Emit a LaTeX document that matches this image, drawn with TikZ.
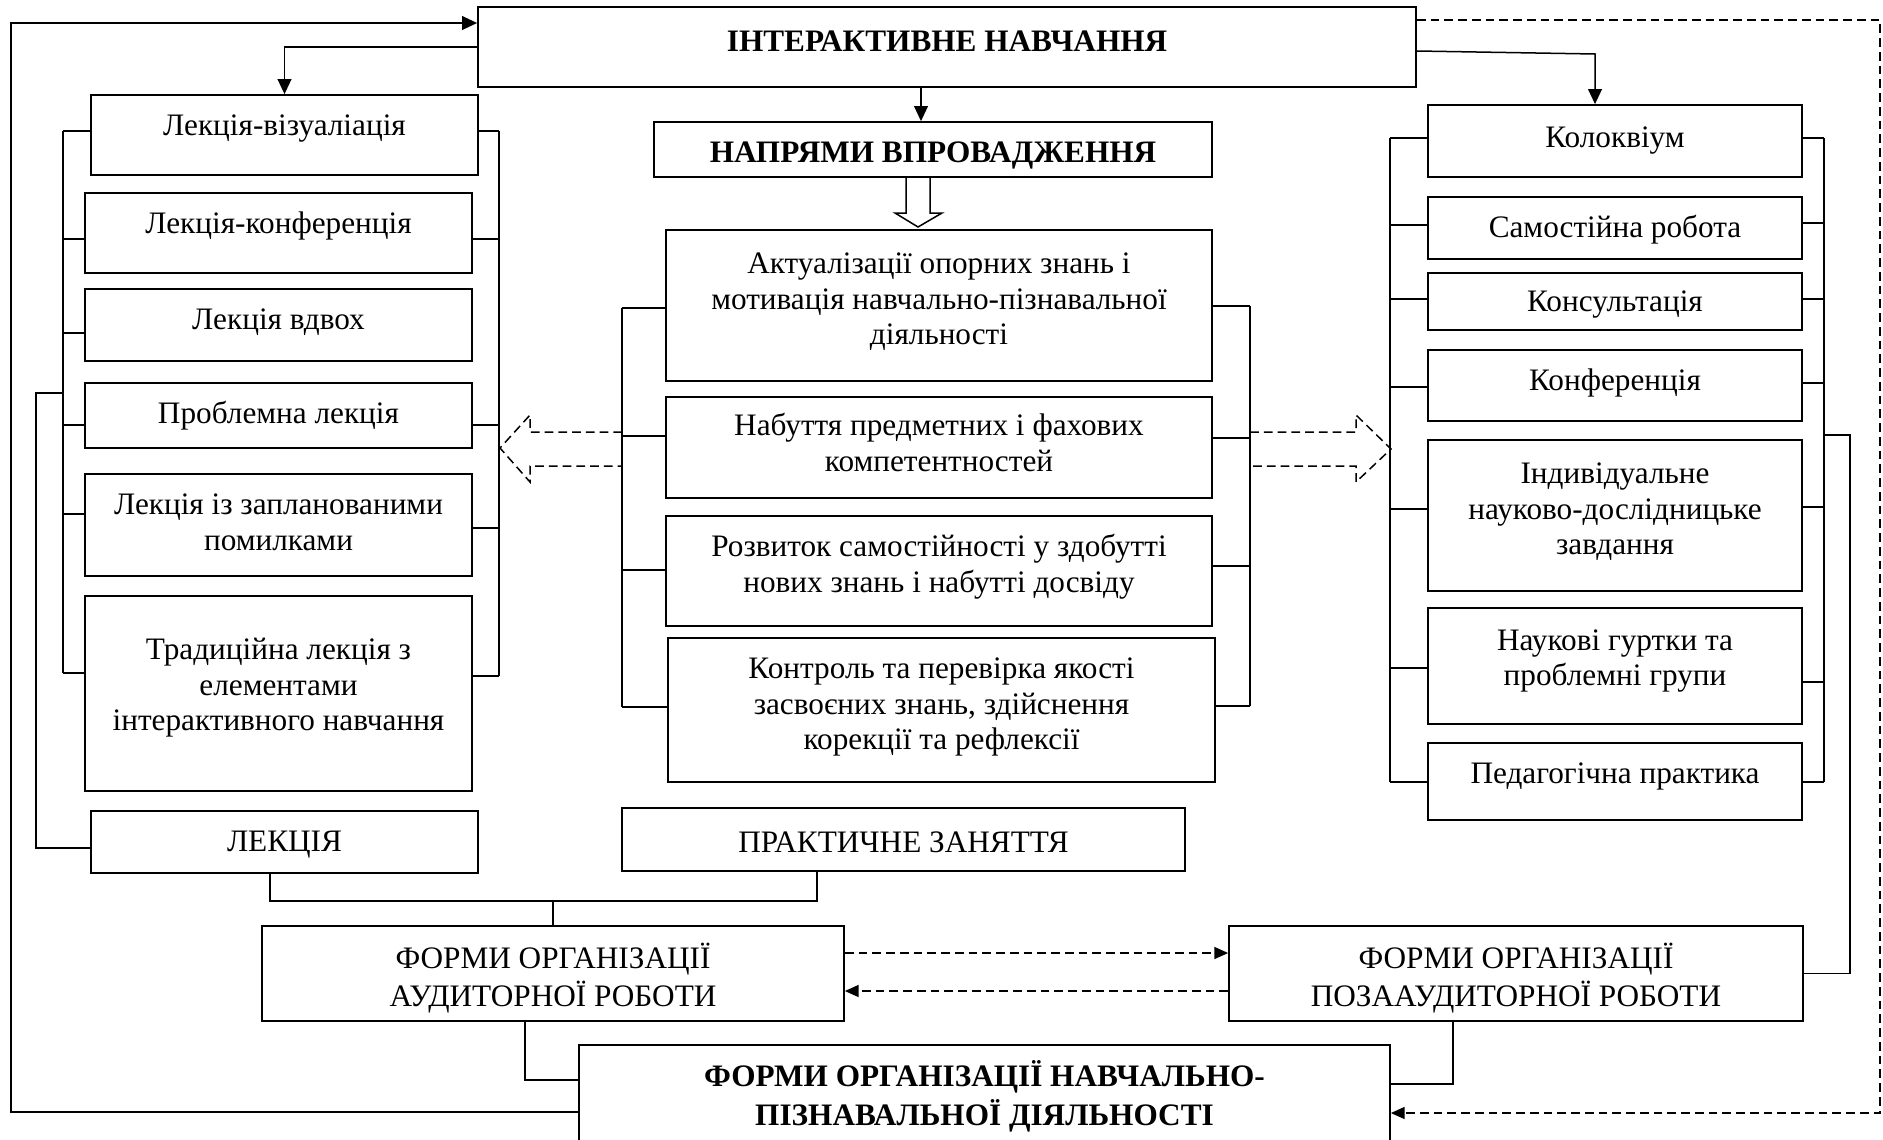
\documentclass[tikz,border=0pt]{standalone}
\usepackage{fontspec}
\setmainfont{Liberation Serif}
\usetikzlibrary{arrows.meta}
\newcommand{\cell}[4][6.3pt]{\parbox[c][#3][t]{#2}{\centering\vspace*{#1}\strut #4\par}}
\tikzset{
  box/.style={draw,line width=0.7pt,inner sep=0pt,font=\fontsize{12.5}{14.2}\selectfont},
  link/.style={line width=0.6pt},
  arr/.style={link,-{Triangle[length=6pt,width=5.5pt]}},
  dashlink/.style={line width=0.6pt,dash pattern=on 3.5pt off 2pt},
  darr/.style={dashlink,-{Triangle[length=5.5pt,width=4.8pt]}}
}
\begin{document}
\begin{tikzpicture}[x=0.4pt,y=-0.4pt]
\useasboundingbox (0,0) rectangle (1883,1139);
\node[box] (top) at (947,47) {\cell[7.9pt]{375.2pt}{32pt}{\bfseries ІНТЕРАКТИВНЕ НАВЧАННЯ}};
\node[box] (lviz) at (284.5,135) {\cell{154.8pt}{32pt}{Лекція-візуаліація}};
\node[box] (lkonf) at (278.5,233) {\cell{154.8pt}{32pt}{Лекція-конференція}};
\node[box] (lvdvoh) at (278.5,325) {\cell{154.8pt}{28.8pt}{Лекція вдвох}};
\node[box] (lprob) at (278.5,415.5) {\cell{154.8pt}{26pt}{Проблемна лекція}};
\node[box] (lpom) at (278.5,525) {\cell{154.8pt}{40.8pt}{Лекція із запланованими\\помилками}};
\node[box] (ltrad) at (278.5,693.5) {\cell[15.5pt]{154.8pt}{78pt}{Традиційна лекція з\\елементами\\інтерактивного навчання}};
\node[box] (lekc) at (284.5,842) {\cell{154.8pt}{24.8pt}{ЛЕКЦІЯ}};
\node[box] (napr) at (933,149.5) {\cell{223.2pt}{22pt}{\bfseries НАПРЯМИ ВПРОВАДЖЕННЯ}};
\node[box] (akt) at (939,305.5) {\cell[7.6pt]{218.4pt}{60.4pt}{Актуалізації опорних знань і\\мотивація навчально-пізнавальної\\діяльності}};
\node[box] (nab) at (939,447.5) {\cell[5.6pt]{218.4pt}{40.4pt}{Набуття предметних і фахових\\компетентностей}};
\node[box] (rozv) at (939,571) {\cell{218.4pt}{44pt}{Розвиток самостійності у здобутті\\нових знань і набутті досвіду}};
\node[box] (kontr) at (941.5,710) {\cell{218.8pt}{57.6pt}{Контроль та перевірка якості\\засвоєних знань, здійснення\\корекції та рефлексії}};
\node[box] (kol) at (1615,141) {\cell[7.1pt]{149.6pt}{28.8pt}{Колоквіум}};
\node[box] (sam) at (1615,228) {\cell{149.6pt}{24.8pt}{Самостійна робота}};
\node[box] (kons) at (1615,301.5) {\cell[5.5pt]{149.6pt}{22.8pt}{Консультація}};
\node[box] (konf) at (1615,385.5) {\cell{149.6pt}{28.4pt}{Конференція}};
\node[box] (ind) at (1615,515.5) {\cell[7.6pt]{149.6pt}{60.4pt}{Індивідуальне\\науково-дослідницьке\\завдання}};
\node[box] (nauk) at (1615,666) {\cell[7pt]{149.6pt}{46.4pt}{Наукові гуртки та\\проблемні групи}};
\node[box] (ped) at (1615,781.5) {\cell{149.6pt}{30.8pt}{Педагогічна практика}};
\node[box] (prakt) at (903.5,839.5) {\cell[7.7pt]{225.2pt}{25.2pt}{ПРАКТИЧНЕ ЗАНЯТТЯ}};
\node[box] (aud) at (553,973.5) {\cell[6.7pt]{232.8pt}{38pt}{ФОРМИ ОРГАНІЗАЦІЇ\\АУДИТОРНОЇ РОБОТИ}};
\node[box] (poza) at (1516,973.5) {\cell[6.7pt]{229.6pt}{38pt}{ФОРМИ ОРГАНІЗАЦІЇ\\ПОЗААУДИТОРНОЇ РОБОТИ}};
\node[box] (forms) at (984.5,1100) {\cell{324.4pt}{44pt}{\bfseries ФОРМИ ОРГАНІЗАЦІЇ НАВЧАЛЬНО-\\ПІЗНАВАЛЬНОЇ ДІЯЛЬНОСТІ}};

\draw[arr] (forms.west |- 0,1112) -| (11,23) -- (top.west |- 0,23);
\draw[arr] (top.west) -| (lviz.north);
\draw[arr] (top.south -| 921,0) -- (napr.north -| 921,0);
\draw[arr] (top.east |- 0,51) -- (1595,54) -- (kol.north -| 1595,0);
\draw[link] (napr.south -| 906,0) -- (906,213) -- (895,213) -- (918,227) -- (942,213) -- (930,213) -- (napr.south -| 930,0);
\draw[dashlink] (622,432) -- (530,432) -- (530,415) -- (500,448) -- (530,482) -- (530,466) -- (622,466);
\draw[dashlink] (1250,432) -- (1356,432) -- (1356,415) -- (1391,449) -- (1356,482) -- (1356,466) -- (1250,466);

\foreach \n/\y in {lviz/131,lkonf/239,lvdvoh/333,lprob/425,lpom/514,ltrad/673}
  \draw[link] (\n.west |- 0,\y) -- (63,\y);
\draw[link] (63,131) -- (63,673);
\foreach \n/\y in {lviz/131,lkonf/239,lprob/425,lpom/528,ltrad/676}
  \draw[link] (\n.east |- 0,\y) -- (499,\y);
\draw[link] (499,131) -- (499,676);
\draw[link] (lekc.west |- 0,848) -| (36,393) -- (63,393);

\foreach \n/\y in {akt/308,nab/436,rozv/570,kontr/707}
  \draw[link] (\n.west |- 0,\y) -- (622,\y);
\draw[link] (622,308) -- (622,707);
\foreach \n/\y in {akt/306,nab/438,rozv/566,kontr/706}
  \draw[link] (\n.east |- 0,\y) -- (1250,\y);
\draw[link] (1250,306) -- (1250,706);

\foreach \n/\y in {kol/138,sam/225,kons/299,konf/387,ind/509,nauk/668,ped/782}
  \draw[link] (\n.west |- 0,\y) -- (1390,\y);
\draw[link] (1390,138) -- (1390,782);
\foreach \n/\y in {kol/138,sam/223,kons/299,konf/383,ind/507,nauk/682,ped/782}
  \draw[link] (\n.east |- 0,\y) -- (1824,\y);
\draw[link] (1824,138) -- (1824,782);
\draw[link] (poza.east) -| (1850,435) -- (1824,435);

\draw[link] (lekc.south -| 270,0) |- (817,901) -- (prakt.south -| 817,0);
\draw[link] (553,901) -- (aud.north);
\draw[link] (aud.south -| 525,0) |- (forms.west |- 0,1080);
\draw[link] (poza.south -| 1453,0) |- (forms.east |- 0,1084);
\draw[darr] (aud.east |- 0,953) -- (poza.west |- 0,953);
\draw[darr] (poza.west |- 0,991) -- (aud.east |- 0,991);
\draw[darr] (top.east |- 0,20) -| (1880,1113) -- (forms.east |- 0,1113);
\end{tikzpicture}
\end{document}
